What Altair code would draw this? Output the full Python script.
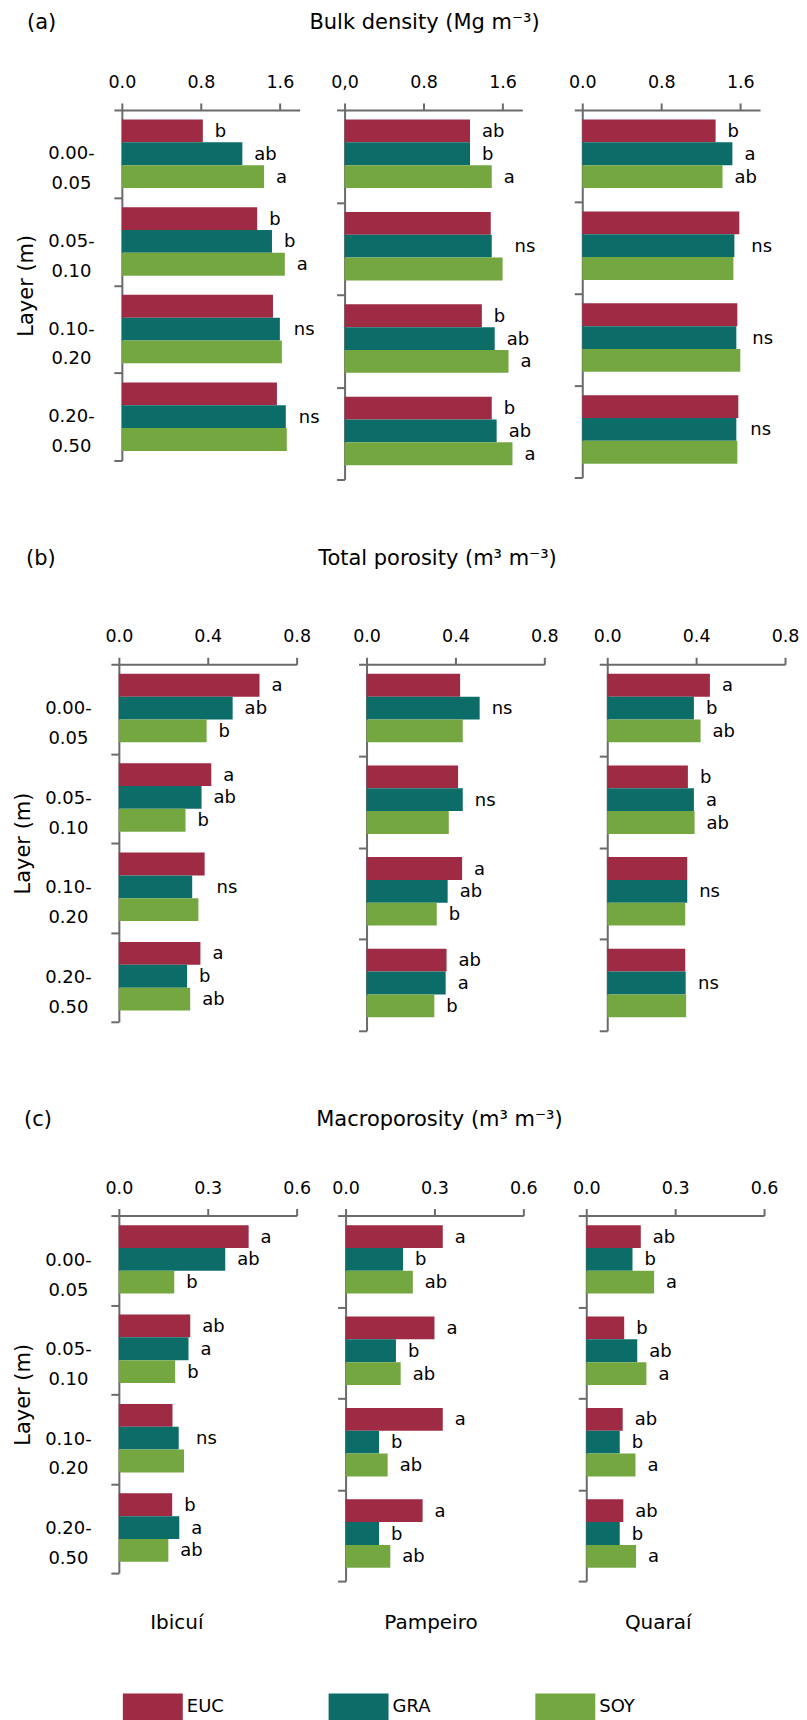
import altair as alt
import pandas as pd

FONT = "DejaVu Sans"
AXC = "#6b6b6b"

layers = ["0.00-|0.05", "0.05-|0.10", "0.10-|0.20", "0.20-|0.50"]
treatments = ["EUC", "GRA", "SOY"]
sites = ["Ibicuí", "Pampeiro", "Quaraí"]
colors = ["#9e2a43", "#0c6c68", "#74a740"]

# (a) Bulk density (Mg m-3)
bd_ibi_euc = [0.82, 1.37, 1.53, 1.57]
bd_ibi_gra = [1.22, 1.52, 1.60, 1.66]
bd_ibi_soy = [1.44, 1.65, 1.62, 1.67]
bd_ibi_lab = [["b", "ab", "a"], ["b", "b", "a"], "ns", "ns"]
bd_pam_euc = [1.27, 1.48, 1.39, 1.49]
bd_pam_gra = [1.27, 1.49, 1.52, 1.54]
bd_pam_soy = [1.49, 1.60, 1.66, 1.70]
bd_pam_lab = [["ab", "b", "a"], "ns", ["b", "ab", "a"], ["b", "ab", "a"]]
bd_qua_euc = [1.35, 1.59, 1.57, 1.58]
bd_qua_gra = [1.52, 1.54, 1.56, 1.56]
bd_qua_soy = [1.42, 1.53, 1.60, 1.57]
bd_qua_lab = [["b", "a", "ab"], "ns", "ns", "ns"]

# (b) Total porosity (m3 m-3)
tp_ibi_euc = [0.633, 0.416, 0.386, 0.367]
tp_ibi_gra = [0.512, 0.372, 0.330, 0.307]
tp_ibi_soy = [0.395, 0.300, 0.358, 0.321]
tp_ibi_lab = [["a", "ab", "b"], ["a", "ab", "b"], "ns", ["a", "b", "ab"]]
tp_pam_euc = [0.421, 0.412, 0.430, 0.360]
tp_pam_gra = [0.509, 0.433, 0.365, 0.356]
tp_pam_soy = [0.433, 0.370, 0.316, 0.305]
tp_pam_lab = ["ns", "ns", ["a", "ab", "b"], ["ab", "a", "b"]]
tp_qua_euc = [0.462, 0.363, 0.360, 0.351]
tp_qua_gra = [0.390, 0.390, 0.360, 0.353]
tp_qua_soy = [0.420, 0.393, 0.351, 0.355]
tp_qua_lab = [["a", "b", "ab"], ["b", "a", "ab"], "ns", "ns"]

# (c) Macroporosity (m3 m-3)
mp_ibi_euc = [0.438, 0.241, 0.181, 0.180]
mp_ibi_gra = [0.359, 0.235, 0.202, 0.204]
mp_ibi_soy = [0.187, 0.190, 0.220, 0.167]
mp_ibi_lab = [["a", "ab", "b"], ["ab", "a", "b"], "ns", ["b", "a", "ab"]]
mp_pam_euc = [0.328, 0.300, 0.328, 0.260]
mp_pam_gra = [0.194, 0.170, 0.113, 0.113]
mp_pam_soy = [0.227, 0.186, 0.142, 0.151]
mp_pam_lab = [["a", "b", "ab"], ["a", "b", "ab"], ["a", "b", "ab"], ["a", "b", "ab"]]
mp_qua_euc = [0.184, 0.128, 0.123, 0.125]
mp_qua_gra = [0.156, 0.172, 0.113, 0.113]
mp_qua_soy = [0.229, 0.203, 0.166, 0.168]
mp_qua_lab = [["ab", "b", "a"], ["b", "ab", "a"], ["ab", "b", "a"], ["ab", "b", "a"]]

row_titles = ["Bulk density (Mg m⁻³)", "Total porosity (m³ m⁻³)", "Macroporosity (m³ m⁻³)"]
row_tags = ["(a)", "(b)", "(c)"]
row_domains = [[0, 1.8], [0, 0.8], [0, 0.6]]
row_ticks = [[0, 0.8, 1.6], [0, 0.4, 0.8], [0, 0.3, 0.6]]

LEG = alt.Legend(
    title=None, orient="none", legendX=4, legendY=1569, direction="horizontal",
    columns=3, symbolType="M-1,-0.467H1V0.467H-1Z", symbolSize=3600,
    symbolStrokeWidth=0, labelFontSize=18, labelFont=FONT, labelColor="black",
    labelOffset=4, columnPadding=104, padding=0, symbolOpacity=1,
)


def text_layer(s, x, y, size, align="left"):
    return alt.Chart(pd.DataFrame({"t": [s]})).mark_text(
        align=align, baseline="middle", fontSize=size, font=FONT, color="black"
    ).encode(text="t:N", x=alt.value(x), y=alt.value(y))


def panel(vals, labs, domain, ticks, view_w, h, xoff, first, zero_comma=False, extras=()):
    rows = []
    for t, v in zip(treatments, vals):
        for L, x in zip(layers, v):
            rows.append({"layer": L, "trt": t, "v": x})
    df = pd.DataFrame(rows)
    ann = []
    for i, L in enumerate(layers):
        if labs[i] == "ns":
            ann.append({"layer": L, "trt": "GRA", "v": max(v[i] for v in vals), "lab": "ns"})
        else:
            for k, t in enumerate(treatments):
                ann.append({"layer": L, "trt": t, "v": vals[k][i], "lab": labs[i][k]})
    adf = pd.DataFrame(ann)

    lab_expr = "datum.value == 0 ? '0,0' : format(datum.value, '.1f')" if zero_comma else "format(datum.value, '.1f')"
    xenc = alt.X(
        "v:Q",
        scale=alt.Scale(domain=domain, range=[xoff, xoff + 178], nice=False, zero=True),
        axis=alt.Axis(orient="top", values=ticks, labelExpr=lab_expr, title=None, grid=False,
                      tickSize=7, tickWidth=2, domainWidth=2, domainColor=AXC, tickColor=AXC,
                      labelFontSize=17.5, labelFont=FONT, labelColor="black", labelPadding=20.5,
                      labelBaseline="middle", labelFlush=False),
    )
    common = dict(tickBand="extent", tickSize=8, tickWidth=2, domainWidth=2,
                  domainColor=AXC, tickColor=AXC, offset=-xoff)
    if first:
        yaxis = alt.Axis(
            labelExpr="split(datum.label, '|')", labelAlign="center", labelPadding=43,
            labelFontSize=18, labelFont=FONT, labelColor="black", labelLineHeight=30,
            title="Layer (m)", titleX=-95, titleY=h / 2, titleAngle=270, titleAlign="center",
            titleBaseline="middle", titleFontSize=21, titleFont=FONT, titleFontWeight="normal",
            titleColor="black", **common,
        )
    else:
        yaxis = alt.Axis(labels=False, title=None, **common)
    yenc = alt.Y("layer:N", sort=layers,
                 scale=alt.Scale(domain=layers, paddingInner=0, paddingOuter=0), axis=yaxis)
    yoff = alt.YOffset("trt:N", sort=treatments,
                       scale=alt.Scale(domain=treatments, paddingOuter=0.42, paddingInner=0))
    bars = alt.Chart(df).mark_bar().encode(
        x=xenc, y=yenc, yOffset=yoff,
        color=alt.Color("trt:N", scale=alt.Scale(domain=treatments, range=colors), legend=LEG),
    )
    txt = alt.Chart(adf).mark_text(align="left", baseline="middle", dx=12, dy=1,
                                   fontSize=18, font=FONT, color="black").encode(
        x=alt.X("v:Q"), y=alt.Y("layer:N", sort=layers), yOffset=alt.YOffset("trt:N", sort=treatments),
        text="lab:N",
    )
    return alt.layer(bars, txt, *extras).properties(width=view_w, height=h)


vals = {
    "bd": [[bd_ibi_euc, bd_ibi_gra, bd_ibi_soy], [bd_pam_euc, bd_pam_gra, bd_pam_soy], [bd_qua_euc, bd_qua_gra, bd_qua_soy]],
    "tp": [[tp_ibi_euc, tp_ibi_gra, tp_ibi_soy], [tp_pam_euc, tp_pam_gra, tp_pam_soy], [tp_qua_euc, tp_qua_gra, tp_qua_soy]],
    "mp": [[mp_ibi_euc, mp_ibi_gra, mp_ibi_soy], [mp_pam_euc, mp_pam_gra, mp_pam_soy], [mp_qua_euc, mp_qua_gra, mp_qua_soy]],
}
labs = {
    "bd": [bd_ibi_lab, bd_pam_lab, bd_qua_lab],
    "tp": [tp_ibi_lab, tp_pam_lab, tp_qua_lab],
    "mp": [mp_ibi_lab, mp_pam_lab, mp_qua_lab],
}

# layout: column view widths, per-panel plot offsets inside the view, plot heights
col_widths = [226, 238, 203]
xoffs = [[3, 0, 0], [0, 22, 25], [0, 1, 4]]
heights = [[351, 370, 368], [358, 367, 367], [358, 366, 366]]
title_y = [-87, -105, -96]
tag_x = [-92, -93, -95]
title_x = [306, 319, 321]
site_x = [58, 86.5, 76]

panels = []
for r, key in enumerate(["bd", "tp", "mp"]):
    for c in range(3):
        extras = []
        if c == 0:
            extras.append(text_layer(row_tags[r], tag_x[r], title_y[r], 21))
            extras.append(text_layer(row_titles[r], title_x[r], title_y[r], 21, align="center"))
        if r == 2:
            extras.append(text_layer(sites[c], site_x[c], 408, 20, align="center"))
        panels.append(panel(vals[key][c], labs[key][c], row_domains[r], row_ticks[r],
                            col_widths[c], heights[r][c], xoffs[r][c], first=(c == 0),
                            zero_comma=(r == 0 and c == 1), extras=extras))

chart = alt.concat(
    *panels, columns=3, spacing={"row": 185, "column": 0},
    align={"row": "each", "column": "each"}, bounds="flush",
).properties(
    padding={"left": 5, "top": 3, "right": 0, "bottom": 0}
).configure_view(stroke=None).configure_text(font=FONT)

chart.save("out.html", embed_options={"renderer": "svg", "actions": False})
